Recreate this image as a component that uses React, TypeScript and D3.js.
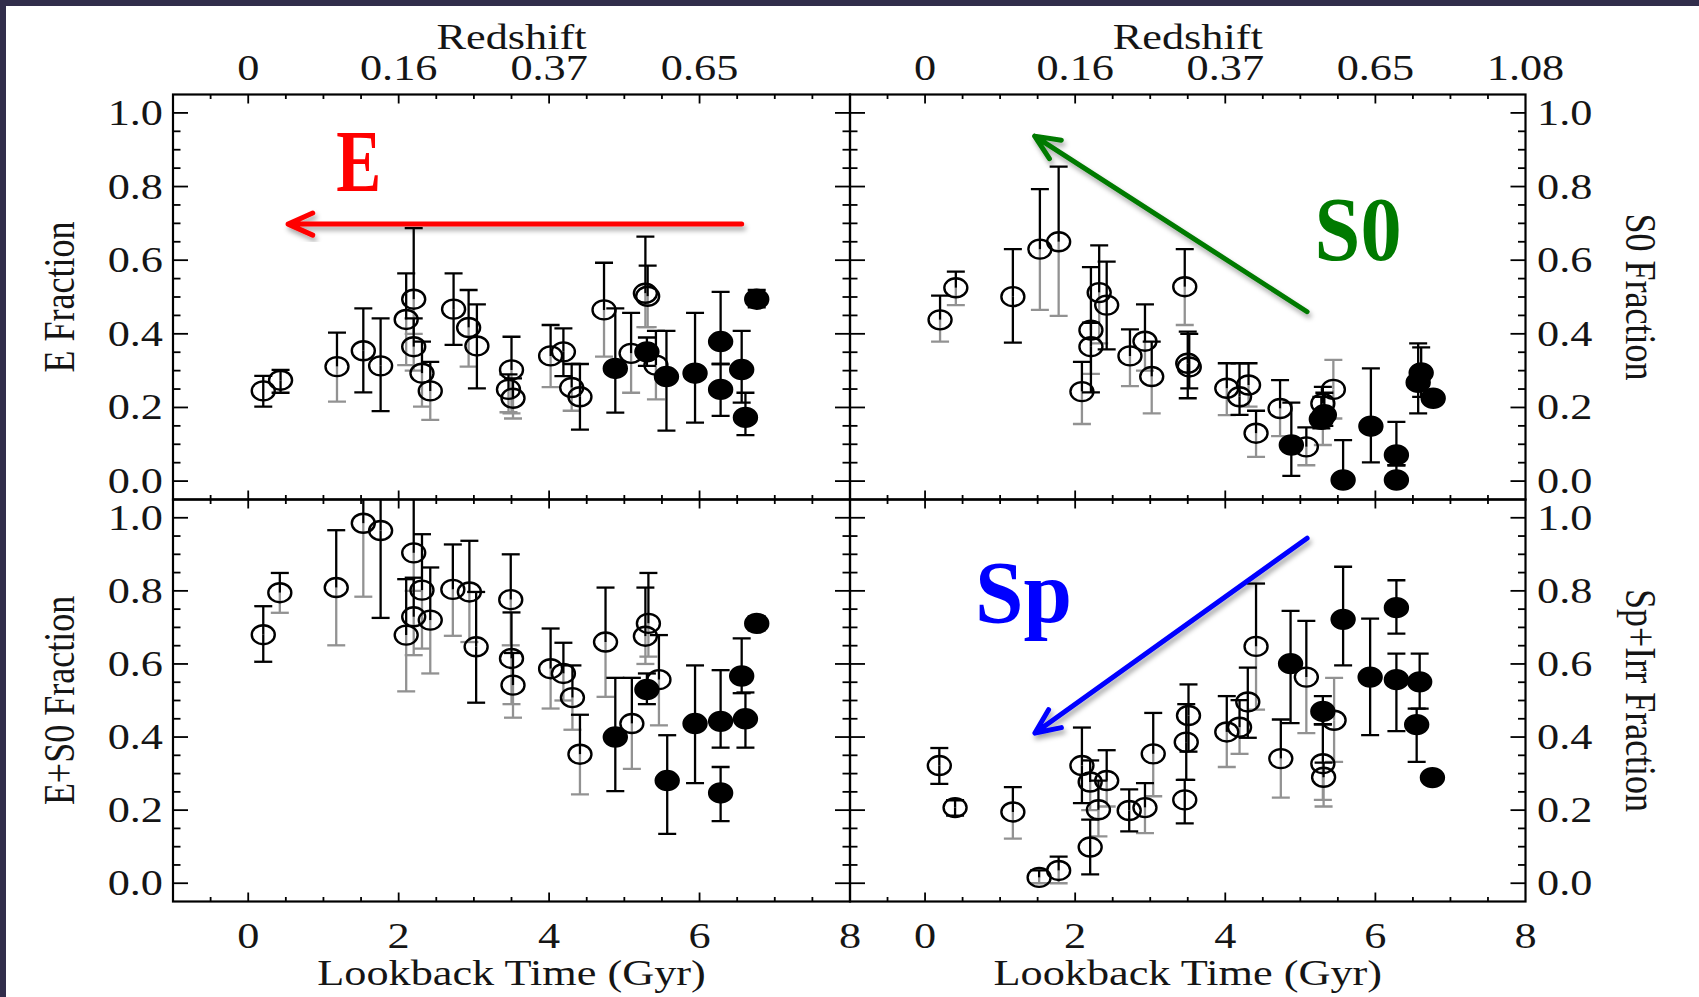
import React from 'react';
import * as d3 from 'd3';

const W = 1699;
const H = 997;

// ---------- shared axis data ----------
const lookbackMajor = [0, 2, 4, 6, 8];
const redshiftAtMajor = ['0', '0.16', '0.37', '0.65', '1.08'];
const fractionMajor = [0, 0.2, 0.4, 0.6, 0.8, 1.0];
const timeDomain = [-1, 8];
const fracDomain = [-0.05, 1.05];

// ---------- E fraction (top-left) ----------
const eTime = [0.20, 0.43, 1.18, 1.53, 1.76, 2.10, 2.20, 2.20, 2.31, 2.42, 2.73, 2.93, 3.04, 3.50, 3.46, 3.52, 4.02, 4.19, 4.30, 4.41, 4.73, 4.88, 5.09, 5.28, 5.31, 5.30, 5.42, 5.56, 5.94, 6.28, 6.28, 6.56, 6.61, 6.76];
const eFrac = [0.245, 0.274, 0.311, 0.354, 0.313, 0.439, 0.494, 0.365, 0.293, 0.245, 0.467, 0.417, 0.367, 0.302, 0.249, 0.225, 0.340, 0.351, 0.254, 0.229, 0.465, 0.306, 0.347, 0.510, 0.502, 0.351, 0.315, 0.284, 0.293, 0.379, 0.249, 0.303, 0.173, 0.494];
const eHi = [0.286, 0.302, 0.403, 0.469, 0.442, 0.564, 0.687, 0.442, 0.379, 0.324, 0.564, 0.519, 0.480, 0.392, 0.290, 0.279, 0.424, 0.415, 0.318, 0.318, 0.593, 0.469, 0.457, 0.664, 0.585, 0.390, 0.408, 0.408, 0.457, 0.514, 0.318, 0.408, 0.240, 0.519];
const eLo = [0.202, 0.240, 0.216, 0.241, 0.190, 0.315, 0.400, 0.300, 0.202, 0.166, 0.370, 0.311, 0.252, 0.184, 0.187, 0.170, 0.255, 0.285, 0.191, 0.140, 0.338, 0.186, 0.240, 0.418, 0.418, 0.313, 0.222, 0.137, 0.159, 0.318, 0.177, 0.213, 0.125, 0.472];
const eHiAlt = [0, 0, 0, 0, 0, 0, 0, 0, 0, 0, 0, 0, 0, 0, 0, 0, 0, 0, 0, 0, 0, 0, 0, 0, 0, 0, 0, 0, 0, 0, 0, 0, 0, 0];
const eLoAlt = [0, 0, 1, 0, 0, 1, 1, 1, 1, 1, 0, 1, 0, 1, 1, 1, 1, 0, 1, 0, 1, 0, 1, 1, 1, 0, 1, 0, 0, 0, 0, 0, 0, 0];
const eDistant = [0, 0, 0, 0, 0, 0, 0, 0, 0, 0, 0, 0, 0, 0, 0, 0, 0, 0, 0, 0, 0, 1, 0, 0, 0, 1, 0, 1, 1, 1, 1, 1, 1, 1];

// ---------- S0 fraction (top-right) ----------
const sTime = [0.20, 0.41, 1.17, 1.53, 1.78, 2.09, 2.21, 2.21, 2.32, 2.42, 2.73, 2.93, 3.02, 3.46, 3.50, 3.52, 4.02, 4.19, 4.31, 4.41, 4.73, 4.88, 5.08, 5.44, 5.30, 5.28, 5.32, 5.57, 5.94, 6.28, 6.28, 6.57, 6.61, 6.77];
const sFrac = [0.438, 0.525, 0.501, 0.630, 0.650, 0.243, 0.410, 0.365, 0.512, 0.478, 0.340, 0.380, 0.284, 0.528, 0.320, 0.310, 0.252, 0.229, 0.261, 0.130, 0.197, 0.098, 0.093, 0.249, 0.211, 0.168, 0.180, 0.003, 0.149, 0.071, 0.003, 0.268, 0.294, 0.225];
const sHi = [0.504, 0.569, 0.630, 0.793, 0.854, 0.324, 0.581, 0.430, 0.640, 0.596, 0.412, 0.480, 0.379, 0.630, 0.406, 0.400, 0.320, 0.320, 0.320, 0.191, 0.274, 0.213, 0.146, 0.329, 0.256, 0.229, 0.240, 0.111, 0.306, 0.161, 0.043, 0.374, 0.363, 0.240];
const sLo = [0.379, 0.478, 0.376, 0.465, 0.449, 0.155, 0.291, 0.241, 0.374, 0.358, 0.258, 0.300, 0.184, 0.424, 0.225, 0.252, 0.179, 0.180, 0.202, 0.066, 0.122, 0.014, 0.043, 0.170, 0.098, 0.143, 0.150, 0.003, 0.051, 0.043, 0.003, 0.184, 0.229, 0.210];
const sHiAlt = [0, 0, 0, 0, 0, 0, 0, 0, 0, 0, 0, 0, 0, 0, 0, 0, 0, 0, 0, 0, 0, 0, 0, 1, 0, 0, 0, 0, 0, 0, 0, 0, 0, 0];
const sLoAlt = [1, 1, 0, 1, 1, 1, 1, 0, 1, 0, 1, 1, 1, 1, 0, 0, 1, 0, 1, 1, 1, 0, 1, 1, 1, 0, 0, 0, 0, 0, 0, 0, 0, 0];
const sDistant = [0, 0, 0, 0, 0, 0, 0, 0, 0, 0, 0, 0, 0, 0, 0, 0, 0, 0, 0, 0, 0, 1, 0, 0, 0, 1, 1, 1, 1, 1, 1, 1, 1, 1];

// ---------- E+S0 fraction (bottom-left) ----------
const esTime = [0.20, 0.42, 1.17, 1.53, 1.76, 2.10, 2.20, 2.20, 2.31, 2.42, 2.72, 2.94, 3.03, 3.49, 3.50, 3.52, 4.02, 4.19, 4.31, 4.41, 4.75, 4.88, 5.10, 5.28, 5.32, 5.30, 5.46, 5.57, 5.94, 6.28, 6.28, 6.56, 6.61, 6.76];
const esFrac = [0.680, 0.795, 0.809, 0.985, 0.965, 0.679, 0.904, 0.729, 0.802, 0.720, 0.804, 0.797, 0.647, 0.776, 0.615, 0.542, 0.587, 0.574, 0.508, 0.353, 0.660, 0.400, 0.437, 0.676, 0.711, 0.530, 0.557, 0.281, 0.437, 0.443, 0.247, 0.567, 0.450, 0.711];
const esHi = [0.758, 0.849, 0.966, 1.10, 1.10, 0.832, 1.10, 0.836, 0.955, 0.864, 0.927, 0.937, 0.797, 0.900, 0.741, 0.630, 0.697, 0.658, 0.596, 0.461, 0.809, 0.562, 0.562, 0.809, 0.849, 0.574, 0.679, 0.405, 0.596, 0.583, 0.318, 0.670, 0.522, 0.730];
const esLo = [0.606, 0.740, 0.651, 0.784, 0.726, 0.525, 0.800, 0.624, 0.642, 0.574, 0.677, 0.660, 0.494, 0.651, 0.490, 0.453, 0.478, 0.500, 0.420, 0.243, 0.510, 0.252, 0.313, 0.600, 0.620, 0.490, 0.432, 0.135, 0.274, 0.371, 0.170, 0.520, 0.371, 0.692];
const esHiAlt = [0, 0, 0, 0, 0, 0, 0, 0, 0, 0, 0, 0, 0, 0, 0, 0, 0, 0, 0, 0, 0, 0, 0, 0, 0, 0, 0, 0, 0, 0, 0, 0, 0, 0];
const esLoAlt = [0, 1, 1, 1, 0, 1, 1, 1, 1, 1, 1, 1, 0, 1, 1, 1, 1, 1, 1, 1, 1, 0, 1, 1, 1, 0, 1, 0, 0, 0, 0, 0, 0, 0];
const esDistant = [0, 0, 0, 0, 0, 0, 0, 0, 0, 0, 0, 0, 0, 0, 0, 0, 0, 0, 0, 0, 0, 1, 0, 0, 0, 1, 0, 1, 1, 1, 1, 1, 1, 1];

// ---------- Sp+Irr fraction (bottom-right) ----------
const spTime = [0.19, 0.40, 1.17, 1.52, 1.78, 2.09, 2.20, 2.20, 2.31, 2.42, 2.72, 2.93, 3.04, 3.46, 3.48, 3.51, 4.02, 4.19, 4.30, 4.41, 4.74, 4.87, 5.08, 5.30, 5.45, 5.30, 5.31, 5.57, 5.93, 6.28, 6.28, 6.59, 6.55, 6.76];
const spFrac = [0.322, 0.207, 0.195, 0.016, 0.035, 0.322, 0.277, 0.099, 0.201, 0.281, 0.199, 0.207, 0.354, 0.228, 0.386, 0.459, 0.414, 0.427, 0.496, 0.648, 0.341, 0.601, 0.564, 0.470, 0.446, 0.327, 0.290, 0.722, 0.564, 0.754, 0.557, 0.551, 0.434, 0.289];
const spHi = [0.370, 0.227, 0.263, 0.035, 0.073, 0.426, 0.336, 0.174, 0.281, 0.364, 0.257, 0.274, 0.466, 0.283, 0.490, 0.544, 0.512, 0.501, 0.590, 0.820, 0.448, 0.745, 0.718, 0.512, 0.562, 0.435, 0.330, 0.866, 0.724, 0.829, 0.628, 0.628, 0.478, 0.300];
const spLo = [0.272, 0.185, 0.122, 0.000, 0.000, 0.219, 0.200, 0.024, 0.128, 0.210, 0.142, 0.137, 0.238, 0.164, 0.283, 0.360, 0.318, 0.354, 0.398, 0.475, 0.234, 0.438, 0.411, 0.435, 0.332, 0.228, 0.210, 0.596, 0.405, 0.683, 0.416, 0.478, 0.332, 0.278];
const spHiAlt = [0, 0, 0, 0, 0, 0, 0, 0, 0, 0, 0, 0, 0, 0, 0, 0, 0, 0, 0, 0, 0, 0, 0, 0, 1, 0, 0, 0, 0, 0, 0, 0, 0, 0];
const spLoAlt = [0, 0, 1, 1, 1, 0, 1, 0, 1, 1, 0, 1, 1, 0, 0, 0, 1, 1, 0, 1, 1, 0, 1, 0, 1, 1, 1, 0, 0, 0, 0, 0, 0, 0];
const spDistant = [0, 0, 0, 0, 0, 0, 0, 0, 0, 0, 0, 0, 0, 0, 0, 0, 0, 0, 0, 0, 0, 1, 0, 1, 0, 0, 0, 1, 1, 1, 1, 1, 1, 1];

// ---------- annotations (data coordinates) ----------
const eArrow = { from: [6.56, 0.698], to: [0.53, 0.698] };
const s0Arrow = { from: [5.09, 0.46], to: [1.46, 0.937] };
const spArrow = { from: [5.09, 0.944], to: [1.464, 0.411] };

// ---------- layout ----------
const LX0 = 173, MX = 850, RX1 = 1525.5;
const TY0 = 94.5, MY = 499.5, BY1 = 901.5;
const SX = 1.23; // horizontal stretch of the original figure
const FONT = "'Liberation Serif', 'Times New Roman', Times, serif";
const GREY = '#929292';
const CAP = 9;

type Series = { t: number[]; f: number[]; hi: number[]; lo: number[]; hiAlt: number[]; loAlt: number[]; distant: number[] };

const E: Series = { t: eTime, f: eFrac, hi: eHi, lo: eLo, hiAlt: eHiAlt, loAlt: eLoAlt, distant: eDistant };
const S0: Series = { t: sTime, f: sFrac, hi: sHi, lo: sLo, hiAlt: sHiAlt, loAlt: sLoAlt, distant: sDistant };
const ES: Series = { t: esTime, f: esFrac, hi: esHi, lo: esLo, hiAlt: esHiAlt, loAlt: esLoAlt, distant: esDistant };
const SP: Series = { t: spTime, f: spFrac, hi: spHi, lo: spLo, hiAlt: spHiAlt, loAlt: spLoAlt, distant: spDistant };

const fmt = d3.format('.1f');

function Txt({ x, y, anchor = 'middle', rot = 0, size = 36, children }: any) {
  return (
    <text
      transform={`translate(${x},${y}) scale(${SX},1)${rot ? ` rotate(${rot})` : ''}`}
      textAnchor={anchor}
      fontFamily={FONT}
      fontSize={size}
      fill="#151515"
    >
      {children}
    </text>
  );
}

function Arrow({ x, y, a, color }: any) {
  const x1 = x(a.from[0]), y1 = y(a.from[1]);
  const x2 = x(a.to[0]), y2 = y(a.to[1]);
  const ang = Math.atan2(y1 - y2, x1 - x2);
  const L = 27, spread = 0.42;
  const w1 = [x2 + L * Math.cos(ang + spread), y2 + L * Math.sin(ang + spread)];
  const w2 = [x2 + L * Math.cos(ang - spread), y2 + L * Math.sin(ang - spread)];
  const path = d3.path();
  path.moveTo(x1, y1);
  path.lineTo(x2, y2);
  path.moveTo(w1[0], w1[1]);
  path.lineTo(x2, y2);
  path.lineTo(w2[0], w2[1]);
  return (
    <path d={path.toString()} stroke={color} strokeWidth={5} fill="none" strokeLinecap="round" strokeLinejoin="round" filter="url(#shadow)" />
  );
}

function Panel({ s, x0, x1, y0, y1, cid }: any) {
  const x = d3.scaleLinear().domain(timeDomain).range([x0, x1]);
  const y = d3.scaleLinear().domain(fracDomain).range([y1, y0]);
  const xMajor = [0, 2, 4, 6];
  const xMinor = d3.range(-0.5, 8, 0.5).filter((v) => Math.abs(v % 2) > 1e-9);
  const yMinor = d3.range(1, 21).filter((i) => i % 4 !== 0).map((i) => i * 0.05);
  const XMAJ = 9, XMIN = 4.5, YMAJ = 15, YMIN = 7.5;

  const bars = (alt: boolean) => {
    const out: any[] = [];
    s.t.forEach((t: number, i: number) => {
      const cx = x(t);
      const parts: [number, number][] = [[s.hi[i], s.hiAlt[i]], [s.lo[i], s.loAlt[i]]];
      parts.forEach(([v, g], k) => {
        if ((g === 1) !== alt) return;
        const yy = y(v);
        out.push(
          <g key={`${i}-${k}`}>
            <line x1={cx} x2={cx} y1={y(s.f[i])} y2={yy} />
            <line x1={cx - CAP} x2={cx + CAP} y1={yy} y2={yy} />
          </g>
        );
      });
    });
    return out;
  };

  return (
    <g>
      <defs>
        <clipPath id={cid}>
          <rect x={x0} y={y0} width={x1 - x0} height={y1 - y0} />
        </clipPath>
      </defs>
      <g stroke="#000" strokeWidth={1.8}>
        {xMajor.map((v) => (
          <g key={`xm${v}`}>
            <line x1={x(v)} x2={x(v)} y1={y0} y2={y0 + XMAJ} />
            <line x1={x(v)} x2={x(v)} y1={y1} y2={y1 - XMAJ} />
          </g>
        ))}
        {xMinor.map((v) => (
          <g key={`xn${v}`}>
            <line x1={x(v)} x2={x(v)} y1={y0} y2={y0 + XMIN} />
            <line x1={x(v)} x2={x(v)} y1={y1} y2={y1 - XMIN} />
          </g>
        ))}
        {fractionMajor.map((v) => (
          <g key={`ym${v}`}>
            <line x1={x0} x2={x0 + YMAJ} y1={y(v)} y2={y(v)} />
            <line x1={x1} x2={x1 - YMAJ} y1={y(v)} y2={y(v)} />
          </g>
        ))}
        {yMinor.map((v) => (
          <g key={`yn${v}`}>
            <line x1={x0} x2={x0 + YMIN} y1={y(v)} y2={y(v)} />
            <line x1={x1} x2={x1 - YMIN} y1={y(v)} y2={y(v)} />
          </g>
        ))}
      </g>
      <rect x={x0} y={y0} width={x1 - x0} height={y1 - y0} fill="none" stroke="#000" strokeWidth={2.2} />
      <g clipPath={`url(#${cid})`}>
        <g stroke={GREY} strokeWidth={2.3}>{bars(true)}</g>
        <g stroke="#000" strokeWidth={2.3}>{bars(false)}</g>
        {s.t.map((t: number, i: number) => (
          <ellipse
            key={`m${i}`}
            cx={x(t)}
            cy={y(s.f[i])}
            rx={11.5}
            ry={9.5}
            fill={s.distant[i] ? '#000' : 'none'}
            stroke="#000"
            strokeWidth={2.4}
          />
        ))}
      </g>
    </g>
  );
}

export default function App() {
  const xL = d3.scaleLinear().domain(timeDomain).range([LX0, MX]);
  const xR = d3.scaleLinear().domain(timeDomain).range([MX, RX1]);
  const yT = d3.scaleLinear().domain(fracDomain).range([MY, TY0]);
  const yB = d3.scaleLinear().domain(fracDomain).range([BY1, MY]);

  return (
    <svg width={W} height={H} style={{ position: 'absolute', left: 0, top: 0, background: '#fff' }}>
      <defs>
        <filter id="shadow" x="-20%" y="-30%" width="140%" height="160%">
          <feDropShadow dx="2" dy="4" stdDeviation="2.5" floodColor="#000" floodOpacity="0.35" />
        </filter>
      </defs>
      <rect x={0} y={0} width={W} height={H} fill="#fff" />
      <rect x={0} y={0} width={W} height={6} fill="#312d4b" />
      <rect x={0} y={0} width={6} height={H} fill="#312d4b" />

      <Panel s={E} x0={LX0} x1={MX} y0={TY0} y1={MY} cid="cE" />
      <Panel s={S0} x0={MX} x1={RX1} y0={TY0} y1={MY} cid="cS" />
      <Panel s={ES} x0={LX0} x1={MX} y0={MY} y1={BY1} cid="cES" />
      <Panel s={SP} x0={MX} x1={RX1} y0={MY} y1={BY1} cid="cSP" />

      {/* top redshift axis */}
      {lookbackMajor.slice(0, 4).map((v, i) => (
        <Txt key={`rl${v}`} x={xL(v)} y={80}>{redshiftAtMajor[i]}</Txt>
      ))}
      {lookbackMajor.map((v, i) => (
        <Txt key={`rr${v}`} x={xR(v)} y={80}>{redshiftAtMajor[i]}</Txt>
      ))}
      <Txt x={(LX0 + MX) / 2} y={49}>Redshift</Txt>
      <Txt x={(MX + RX1) / 2} y={49}>Redshift</Txt>

      {/* bottom lookback axis */}
      {lookbackMajor.map((v) => (
        <Txt key={`bl${v}`} x={xL(v)} y={948}>{v}</Txt>
      ))}
      {lookbackMajor.map((v) => (
        <Txt key={`br${v}`} x={xR(v)} y={948}>{v}</Txt>
      ))}
      <Txt x={(LX0 + MX) / 2} y={985}>Lookback Time (Gyr)</Txt>
      <Txt x={(MX + RX1) / 2} y={985}>Lookback Time (Gyr)</Txt>

      {/* fraction tick labels */}
      {fractionMajor.map((v) => (
        <Txt key={`ylt${v}`} x={163} y={yT(v) + 12} anchor="end">{fmt(v)}</Txt>
      ))}
      {fractionMajor.map((v) => (
        <Txt key={`ylb${v}`} x={163} y={yB(v) + 12} anchor="end">{fmt(v)}</Txt>
      ))}
      {fractionMajor.map((v) => (
        <Txt key={`yrt${v}`} x={1537} y={yT(v) + 12} anchor="start">{fmt(v)}</Txt>
      ))}
      {fractionMajor.map((v) => (
        <Txt key={`yrb${v}`} x={1537} y={yB(v) + 12} anchor="start">{fmt(v)}</Txt>
      ))}

      {/* axis titles */}
      <Txt x={74} y={(TY0 + MY) / 2} rot={-90}>E Fraction</Txt>
      <Txt x={74} y={(MY + BY1) / 2} rot={-90}>E+S0 Fraction</Txt>
      <Txt x={1626} y={(TY0 + MY) / 2} rot={90}>S0 Fraction</Txt>
      <Txt x={1626} y={(MY + BY1) / 2} rot={90}>Sp+Irr Fraction</Txt>

      {/* annotations */}
      <Arrow x={xL} y={yT} a={eArrow} color="#ff0000" />
      <Arrow x={xR} y={yT} a={s0Arrow} color="#007a00" />
      <Arrow x={xR} y={yB} a={spArrow} color="#0000ff" />
      <text x={xL(1.17)} y={yT(0.789)} fontFamily={FONT} fontWeight="bold" fontSize={89} fill="#ff0000" textLength={45} lengthAdjust="spacingAndGlyphs">E</text>
      <text x={xR(5.19)} y={yT(0.60)} fontFamily={FONT} fontWeight="bold" fontSize={90} fill="#007a00" textLength={87} lengthAdjust="spacingAndGlyphs">S0</text>
      <text x={xR(0.665)} y={yB(0.715)} fontFamily={FONT} fontWeight="bold" fontSize={88} fill="#0000ff" textLength={97} lengthAdjust="spacingAndGlyphs">Sp</text>
    </svg>
  );
}
